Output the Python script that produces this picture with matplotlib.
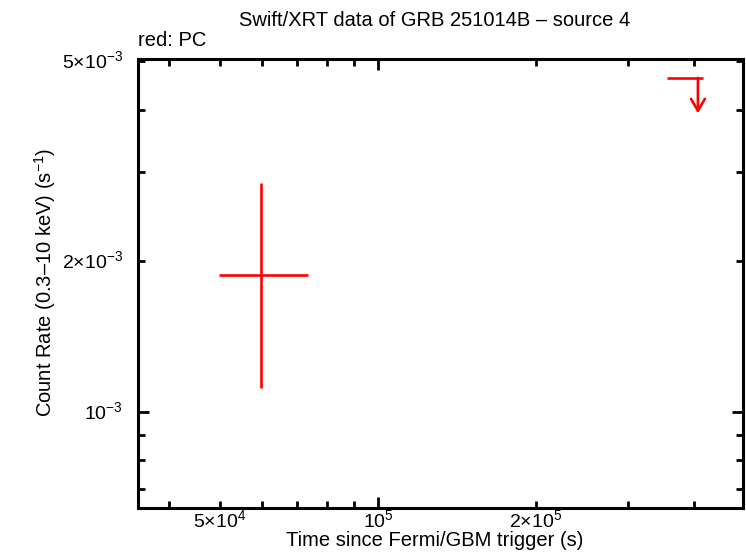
import matplotlib
matplotlib.use("Agg")
import matplotlib.pyplot as plt
import matplotlib.transforms as mtransforms
from matplotlib.ticker import FixedLocator, NullFormatter

plt.rcParams['font.family'] = ['Liberation Sans', 'DejaVu Sans']
plt.rcParams['mathtext.fontset'] = 'custom'
plt.rcParams['mathtext.rm'] = 'Liberation Sans'
plt.rcParams['mathtext.it'] = 'Liberation Sans'

# Data (PC mode)
pc_t = [5.995e4]
pc_t_lo = [4.97e4]
pc_t_hi = [7.35e4]
pc_rate = [1.875e-3]
pc_rate_lo = [1.116e-3]
pc_rate_hi = [2.86e-3]

# Upper limit (PC mode)
ul_t = [4.07e5]
ul_t_lo = [3.55e5]
ul_t_hi = [4.16e5]
ul_rate = [4.63e-3]
ul_arrow_frac = 0.85

xticks_major = [5e4, 1e5, 2e5]
xtick_labels = [r'$5{\times}10^{4}$', r'$10^{5}$', r'$2{\times}10^{5}$']
yticks_major = [1e-3, 2e-3, 5e-3]
ytick_labels = [r'$10^{-3}$', r'$2{\times}10^{-3}$', r'$5{\times}10^{-3}$']

W, H = 746, 558
fig = plt.figure(figsize=(W/100, H/100), dpi=100)
L, R, T, B = 138, 743, 59, 508
ax = fig.add_axes([L/W, 1 - B/H, (R-L)/W, (B-T)/H])
ax.set_xscale('log')
ax.set_yscale('log')
ax.set_xlim(3.49e4, 4.96e5)
ax.set_ylim(6.43e-4, 5.05e-3)

red = '#ff0000'
lw = 1.9
xerr = [[c - lo for c, lo in zip(pc_t, pc_t_lo)], [hi - c for c, hi in zip(pc_t, pc_t_hi)]]
yerr = [[c - lo for c, lo in zip(pc_rate, pc_rate_lo)], [hi - c for c, hi in zip(pc_rate, pc_rate_hi)]]
ax.errorbar(pc_t, pc_rate, xerr=xerr, yerr=yerr, fmt='none', ecolor=red,
            elinewidth=lw, capsize=0)

ax.hlines(ul_rate, ul_t_lo, ul_t_hi, color=red, lw=lw)
for t, r in zip(ul_t, ul_rate):
    ax.annotate('', xy=(t, r * ul_arrow_frac), xytext=(t, r),
                arrowprops=dict(arrowstyle='->,head_width=0.5,head_length=0.85',
                                color=red, lw=lw, shrinkA=0, shrinkB=0))

# ticks
for s in ax.spines.values():
    s.set_linewidth(2.2)
ax.xaxis.set_major_locator(FixedLocator([1e5]))
ax.xaxis.set_minor_locator(FixedLocator([4e4, 5e4, 6e4, 7e4, 8e4, 9e4, 2e5, 3e5, 4e5]))
ax.yaxis.set_major_locator(FixedLocator([1e-3]))
ax.yaxis.set_minor_locator(FixedLocator([7e-4, 8e-4, 9e-4, 2e-3, 3e-3, 4e-3, 5e-3]))
ax.xaxis.set_major_formatter(NullFormatter())
ax.xaxis.set_minor_formatter(NullFormatter())
ax.yaxis.set_major_formatter(NullFormatter())
ax.yaxis.set_minor_formatter(NullFormatter())
ax.tick_params(which='both', direction='in', top=True, right=True, width=2.0)
ax.tick_params(which='major', length=8)
ax.tick_params(which='minor', length=5)

xoff = ax.get_xaxis_transform() + mtransforms.ScaledTranslation(0, -0.01, fig.dpi_scale_trans)
yoff = ax.get_yaxis_transform() + mtransforms.ScaledTranslation(-0.15, 0, fig.dpi_scale_trans)
for v, lab in zip(xticks_major, xtick_labels):
    ax.text(v, 0, lab, transform=xoff, ha='center', va='top', fontsize=14)
for v, lab in zip(yticks_major, ytick_labels):
    ax.text(0, v, lab, transform=yoff, ha='right', va='center', fontsize=14)

fig.text(435/W, 1 - 20/H, 'Swift/XRT data of GRB 251014B \u2013 source 4', ha='center', va='center', fontsize=14.5)
fig.text(138/W, 1 - 41/H, 'red: PC', ha='left', va='center', fontsize=14.5)
fig.text(435/W, 1 - 541/H, 'Time since Fermi/GBM trigger (s)', ha='center', va='center', fontsize=14.5)
fig.text(45/W, 1 - 282/H, 'Count Rate (0.3\u201310 keV) (s$^{-1}$)',
         ha='center', va='center', rotation=90, fontsize=14.5)

fig.savefig('out.png', dpi=100)
